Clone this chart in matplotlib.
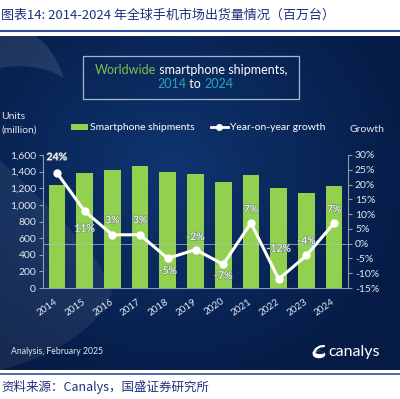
import matplotlib
matplotlib.use('Agg')
import matplotlib.pyplot as plt
import numpy as np
from matplotlib.patches import Rectangle, PathPatch, Ellipse, Patch
from matplotlib.path import Path
from matplotlib.lines import Line2D
import matplotlib.patheffects as pe

# ---------------- data ----------------
years = ['2014', '2015', '2016', '2017', '2018', '2019', '2020', '2021', '2022', '2023', '2024']
shipments = [1240, 1380, 1420, 1465, 1400, 1375, 1270, 1365, 1200, 1145, 1225]
growth = [24, 11, 3, 3, -5, -2, -7, 7, -12, -4, 7]
growth_labels = ['24%', '11%', '3%', '3%', '-5%', '-2%', '-7%', '7%', '-12%', '-4%', '7%']
left_ticks = [0, 200, 400, 600, 800, 1000, 1200, 1400, 1600]
right_ticks = [-15, -10, -5, 0, 5, 10, 15, 20, 25, 30]
# label offsets (pixels, vertical) relative to points
label_dy = [15, -18, 14, 14, -13, 12, -12, 13, 30, 14, 13]

plt.rcParams['font.family'] = ['Lato', 'DejaVu Sans']
CJK = ['Noto Sans CJK SC', 'DejaVu Sans']

W, H = 400, 399
fig = plt.figure(figsize=(4, 3.99), dpi=100)
fig.patch.set_facecolor('white')

def fx(x):
    return x / W

def fy(y):
    return 1 - y / H

# ---------------- background panel ----------------
P_TOP, P_BOT = 36, 370
axbg = fig.add_axes([0, fy(P_BOT), 1, (P_BOT - P_TOP) / H])
axbg.set_xlim(0, 400)
axbg.set_ylim(P_BOT, P_TOP)
axbg.axis('off')
gx, gy = np.meshgrid(np.linspace(0, 400, 200), np.linspace(P_TOP, P_BOT, 200))
d = np.sqrt(((gx - 170) / 260) ** 2 + ((gy - 170) / 230) ** 2)
d = np.clip(d, 0, 1)
c0 = np.array(matplotlib.colors.to_rgb('#0f3570'))
c1 = np.array(matplotlib.colors.to_rgb('#051b45'))
img = c0[None, None, :] * (1 - d[..., None]) + c1[None, None, :] * d[..., None]
axbg.imshow(img, extent=(0, 400, P_BOT, P_TOP), aspect='auto', zorder=0)

# swooshes
verts = [(0, 36), (35, 36), (50, 45), (58, 62), (64, 78),
         (45, 66), (20, 64), (0, 68), (0, 36)]
codes = [Path.MOVETO, Path.LINETO, Path.CURVE4, Path.CURVE4, Path.CURVE4,
         Path.CURVE4, Path.CURVE4, Path.CURVE4, Path.CLOSEPOLY]
axbg.add_patch(PathPatch(Path(verts, codes), fc='white', ec='none', alpha=0.10, zorder=1))
verts2 = [(0, 160), (40, 200), (100, 250), (112, 292),
          (100, 330), (45, 360), (0, 370), (0, 160)]
codes2 = [Path.MOVETO, Path.CURVE4, Path.CURVE4, Path.CURVE4,
          Path.CURVE4, Path.CURVE4, Path.CURVE4, Path.CLOSEPOLY]
axbg.add_patch(PathPatch(Path(verts2, codes2), fc='white', ec='none', alpha=0.07, zorder=1))

# canalys logo icon
axbg.add_patch(Ellipse((319, 354.5), 12.5, 7.5, fc='white', ec='none', zorder=2))
axbg.add_patch(Ellipse((320, 352.5), 9, 3.2, fc='#0a2550', ec='none', zorder=3))
axbg.plot([313.5, 316, 320, 324], [353, 349, 346.5, 346], color='white', lw=1.6,
          solid_capstyle='round', zorder=3)

# ---------------- rules ----------------
fig.add_artist(Line2D([0, 1], [fy(31), fy(31)], transform=fig.transFigure, color='#2d4f9e', lw=1.5))
fig.add_artist(Line2D([0, 1], [fy(373.5), fy(373.5)], transform=fig.transFigure, color='#2d4f9e', lw=1.2))

# ---------------- chinese title / source ----------------
fig.text(fx(1), fy(15), '图表14: 2014-2024 年全球手机市场出货量情况（百万台）', family=CJK,
         fontsize=9.4, color='#1f2f7f', va='center', ha='left')
fig.text(fx(1), fy(387), '资料来源：Canalys，国盛证券研究所', family=CJK,
         fontsize=9, color='#1f2f7f', va='center', ha='left')

# ---------------- title box ----------------
fig.add_artist(Rectangle((fx(83), fy(99)), fx(299) - fx(83), (99 - 56) / H,
                         transform=fig.transFigure, fill=False, ec='#a9b5cc', lw=0.9))
t1 = fig.text(fx(95), fy(70), 'Worldwide', color='#7dc24b', fontsize=9, va='center')
t2 = axbg.annotate(' smartphone shipments,', xy=(1, 0), xycoords=t1, va='bottom', ha='left',
                   color='white', fontsize=9, annotation_clip=False)
t3 = fig.text(fx(157), fy(84), '2014', color='#22a7b9', fontsize=9, va='center')
t4 = axbg.annotate(' to ', xy=(1, 0), xycoords=t3, va='bottom', ha='left',
                   color='white', fontsize=9, annotation_clip=False)
t5 = axbg.annotate('2024', xy=(1, 0), xycoords=t4, va='bottom', ha='left',
                   color='#22a7b9', fontsize=9, annotation_clip=False)

# ---------------- axis labels ----------------
txtc = '#e4e8f0'
fig.text(fx(1), fy(117), 'Units', color=txtc, fontsize=7.5, va='center')
fig.text(fx(1), fy(130), '(million)', color=txtc, fontsize=7.5, va='center')
fig.text(fx(350), fy(130), 'Growth', color=txtc, fontsize=7.5, va='center')

# ---------------- main chart ----------------
ax = fig.add_axes([fx(43), fy(288), fx(348) - fx(43), (288 - 155) / H])
ax.patch.set_visible(False)
x = np.arange(len(years))
bar_color = '#92d050'
ax.bar(x, shipments, width=0.6, color=bar_color, zorder=2)
ax.set_xlim(-0.5, len(years) - 0.5)
ax.set_ylim(0, 1600)
ax.set_yticks(left_ticks)
ax.set_yticklabels([f'{v:,}' for v in left_ticks])
ax.set_xticks(x)
ax.set_xticklabels(years, rotation=35, ha='right', va='center', rotation_mode='anchor')
spc = '#8d9ab5'
for s in ['top', 'right']:
    ax.spines[s].set_visible(False)
ax.spines['left'].set_color(spc)
ax.spines['bottom'].set_color(spc)
ax.spines['left'].set_linewidth(0.8)
ax.spines['bottom'].set_linewidth(0.8)
ax.tick_params(axis='y', colors=spc, labelcolor=txtc, labelsize=7.5, length=3, width=0.8, pad=2)
ax.tick_params(axis='x', length=0, labelcolor=txtc, labelsize=7, pad=9)

ax2 = ax.twinx()
ax2.patch.set_visible(False)
ax2.set_ylim(-15, 30)
ax2.set_yticks(right_ticks)
ax2.set_yticklabels([f'{v}%' for v in right_ticks])
for s in ['top', 'left', 'bottom']:
    ax2.spines[s].set_visible(False)
ax2.spines['right'].set_color(spc)
ax2.spines['right'].set_linewidth(0.8)
ax2.tick_params(axis='y', colors=spc, labelcolor=txtc, labelsize=7.5, length=3, width=0.8, pad=2)
ax2.axhline(0, color='#b4bfd4', lw=0.6, alpha=0.8, zorder=1)
ax2.plot(x, growth, color='white', lw=2.2, marker='o', ms=5, zorder=3)

for i, (g, lbl) in enumerate(zip(growth, growth_labels)):
    ax2.annotate(lbl, (i, g), xytext=(0, label_dy[i] * 0.72), textcoords='offset points',
                 ha='center', va='center', color='white', fontsize=7.5,
                 fontweight='bold' if i == 0 else 'normal', zorder=4,
                 path_effects=[pe.withStroke(linewidth=1.2, foreground='#5a6a80', alpha=0.5)])

# legend
handles = [Patch(facecolor=bar_color, edgecolor='none'),
           Line2D([], [], color='white', lw=2, marker='o', ms=4)]
fig.legend(handles, ['Smartphone shipments', 'Year-on-year growth'], ncol=2, loc='center',
           bbox_to_anchor=(fx(198), fy(128)), frameon=False, fontsize=7.5, labelcolor='white',
           handlelength=1.6, handleheight=0.6, handletextpad=0.2, columnspacing=1.6)

# footer texts
fig.text(fx(103), fy(352), 'Analysis, February 2025',
         ha='right', va='center', color=txtc, fontsize=6.2)
fig.text(fx(328), fy(352), 'canalys', ha='left', va='center', color='white', fontsize=11.5)

fig.savefig('out.png', dpi=100)
